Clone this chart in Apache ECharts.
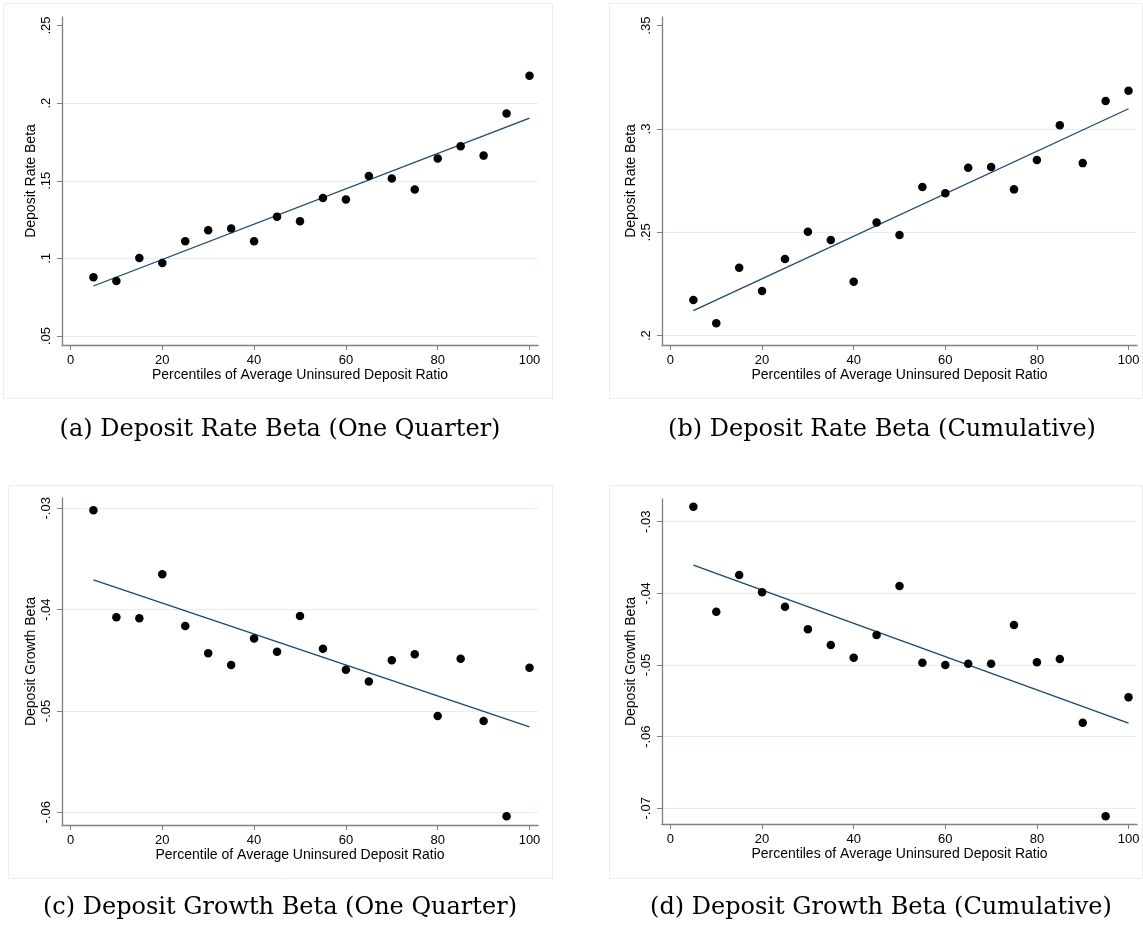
<!DOCTYPE html>
<html>
<head>
<meta charset="utf-8">
<script src="https://cdn.jsdelivr.net/npm/echarts@6/dist/echarts.min.js"></script>
<style>
  html, body { margin: 0; padding: 0; background: #ffffff; }
  #chart { width: 1143px; height: 931px; }
</style>
</head>
<body>
<div id="chart"></div>
<script>
// ---------------- data ----------------
const percentiles = [5, 10, 15, 20, 25, 30, 35, 40, 45, 50, 55, 60, 65, 70, 75, 80, 85, 90, 95, 100];

const rateBetaQuarter = [0.0878, 0.0854, 0.1003, 0.0970, 0.1110, 0.1181, 0.1192, 0.1110, 0.1269, 0.1239,
                         0.1389, 0.1379, 0.1531, 0.1514, 0.1443, 0.1643, 0.1722, 0.1662, 0.1933, 0.2176];
const rateBetaCumulative = [0.2173, 0.2060, 0.2329, 0.2216, 0.2371, 0.2503, 0.2463, 0.2261, 0.2548, 0.2487,
                            0.2719, 0.2689, 0.2813, 0.2816, 0.2708, 0.2850, 0.3018, 0.2835, 0.3135, 0.3185];
const growthBetaQuarter = [-0.0302, -0.04075, -0.04085, -0.0365, -0.0416, -0.04431, -0.04546, -0.04284, -0.04415, -0.04062,
                           -0.04386, -0.04592, -0.04709, -0.0450, -0.04441, -0.05049, -0.04484, -0.05098, -0.06039, -0.04572];
const growthBetaCumulative = [-0.02791, -0.04256, -0.03744, -0.03986, -0.04186, -0.04502, -0.04721, -0.04898, -0.04581, -0.03898,
                              -0.04967, -0.0500, -0.04981, -0.04981, -0.04442, -0.04963, -0.04916, -0.05805, -0.07112, -0.05451];

// fitted line end points at x = 5 and x = 100
const fitX = [5, 100];
const fitRateQuarter = [0.0822, 0.1903];
const fitRateCumulative = [0.2121, 0.3098];
const fitGrowthQuarter = [-0.03706, -0.05157];
const fitGrowthCumulative = [-0.03606, -0.05812];

// tick values
const xTicks = [0, 20, 40, 60, 80, 100];
const yTicksRateQuarter = [0.05, 0.10, 0.15, 0.20, 0.25];
const yTicksRateCumulative = [0.20, 0.25, 0.30, 0.35];
const yTicksGrowthQuarter = [-0.06, -0.05, -0.04, -0.03];
const yTicksGrowthCumulative = [-0.07, -0.06, -0.05, -0.04, -0.03];

// gridlines
const yGridRateQuarter = [0.05, 0.10, 0.15, 0.20];
const yGridRateCumulative = [0.20, 0.25, 0.30];
const yGridGrowthQuarter = [-0.06, -0.05, -0.04, -0.03];
const yGridGrowthCumulative = [-0.07, -0.06, -0.05, -0.04, -0.03];

// texts
const yTitles = ['Deposit Rate Beta', 'Deposit Rate Beta', 'Deposit Growth Beta', 'Deposit Growth Beta'];
const xTitles = ['Percentiles of Average Uninsured Deposit Ratio', 'Percentiles of Average Uninsured Deposit Ratio',
                 'Percentile of Average Uninsured Deposit Ratio', 'Percentiles of Average Uninsured Deposit Ratio'];
const captions = ['(a) Deposit Rate Beta (One Quarter)', '(b) Deposit Rate Beta (Cumulative)',
                  '(c) Deposit Growth Beta (One Quarter)', '(d) Deposit Growth Beta (Cumulative)'];

// ---------------- layout / style ----------------
const panels = [
  { grid: { left: 62, top: 17, width: 476, height: 328 }, ymin: 0.0442, ymax: 0.2555,
    vals: rateBetaQuarter, fit: fitRateQuarter, ticks: yTicksRateQuarter, grid2: yGridRateQuarter },
  { grid: { left: 662, top: 17, width: 475, height: 328 }, ymin: 0.1955, ymax: 0.3542,
    vals: rateBetaCumulative, fit: fitRateCumulative, ticks: yTicksRateCumulative, grid2: yGridRateCumulative },
  { grid: { left: 62, top: 498, width: 476, height: 327 }, ymin: -0.06125, ymax: -0.02898,
    vals: growthBetaQuarter, fit: fitGrowthQuarter, ticks: yTicksGrowthQuarter, grid2: yGridGrowthQuarter },
  { grid: { left: 662, top: 499, width: 475, height: 325 }, ymin: -0.07219, ymax: -0.02683,
    vals: growthBetaCumulative, fit: fitGrowthCumulative, ticks: yTicksGrowthCumulative, grid2: yGridGrowthCumulative }
];
const captionPos = [[280, 430], [882, 430], [280, 908], [881, 908]];
const boxes = [[3, 3, 549, 395], [609, 3, 533, 395], [8, 485, 544, 393], [609, 485, 533, 393]];

const sansFont = 'Liberation Sans, Arial, sans-serif';
const axisColor = '#7f7f7f';
const gridColor = '#e4edf0';

function fmt(v) {
  const s = String(+Number(v).toFixed(4));
  return s.replace(/^(-?)0\./, '$1.');
}

const option = {
  animation: false,
  backgroundColor: '#ffffff',
  grid: panels.map(p => Object.assign({ containLabel: false }, p.grid)),
  xAxis: panels.map((p, i) => ({
    type: 'value', gridIndex: i, min: -1.85, max: 101.85,
    name: xTitles[i], nameLocation: 'middle', nameGap: 23,
    nameTextStyle: { fontFamily: sansFont, fontSize: 14, color: '#000' },
    axisLine: { show: true, onZero: false, lineStyle: { color: axisColor, width: 1.3 } },
    axisTick: { show: true, length: 5, lineStyle: { color: axisColor, width: 1 }, customValues: xTicks },
    axisLabel: { show: true, margin: 9, fontFamily: sansFont, fontSize: 13, color: '#000', customValues: xTicks,
                 formatter: v => String(v) },
    splitLine: { show: false }
  })),
  yAxis: panels.map((p, i) => ({
    type: 'value', gridIndex: i, min: p.ymin, max: p.ymax,
    name: yTitles[i], nameLocation: 'middle', nameGap: 24, nameRotate: 90,
    nameTextStyle: { fontFamily: sansFont, fontSize: 14, color: '#000' },
    axisLine: { show: true, onZero: false, lineStyle: { color: axisColor, width: 1.3 } },
    axisTick: { show: true, length: 5, lineStyle: { color: axisColor, width: 1 }, customValues: p.ticks },
    axisLabel: { show: true, rotate: 90, margin: 9, fontFamily: sansFont, fontSize: 13, color: '#000',
                 customValues: p.ticks, formatter: v => fmt(v) },
    splitLine: { show: false }
  })),
  series: [],
  graphic: []
};

panels.forEach((p, i) => {
  option.series.push({
    type: 'line', xAxisIndex: i, yAxisIndex: i, z: 0,
    data: [], silent: true,
    markLine: {
      silent: true, z: 0, symbol: ['none', 'none'], label: { show: false },
      lineStyle: { color: gridColor, width: 1.2, type: 'solid' },
      emphasis: { disabled: true },
      data: p.grid2.map(v => ({ yAxis: v }))
    }
  });
  option.series.push({
    type: 'line', xAxisIndex: i, yAxisIndex: i, z: 8,
    data: fitX.map((x, k) => [x, p.fit[k]]),
    showSymbol: false, symbol: 'none',
    lineStyle: { color: '#1a476f', width: 1.3 }
  });
  option.series.push({
    type: 'scatter', xAxisIndex: i, yAxisIndex: i, z: 10,
    data: percentiles.map((x, k) => [x, p.vals[k]]),
    symbol: 'circle', symbolSize: 8.5,
    itemStyle: { color: '#000000', opacity: 1 }
  });
});

boxes.forEach(b => {
  option.graphic.push({
    type: 'rect', silent: true, z: -10,
    shape: { x: b[0] + 0.5, y: b[1] + 0.5, width: b[2], height: b[3] },
    style: { fill: 'none', stroke: '#ededed', lineWidth: 1 }
  });
});
captions.forEach((c, i) => {
  option.graphic.push({
    type: 'text', silent: true,
    x: captionPos[i][0], y: captionPos[i][1],
    style: { text: c, font: '24px "DejaVu Serif", serif', fill: '#000', align: 'center', verticalAlign: 'middle',
             textAlign: 'center', textVerticalAlign: 'middle' }
  });
});

const chart = echarts.init(document.getElementById('chart'), null, { renderer: 'canvas' });
chart.setOption(option);
</script>
</body>
</html>
